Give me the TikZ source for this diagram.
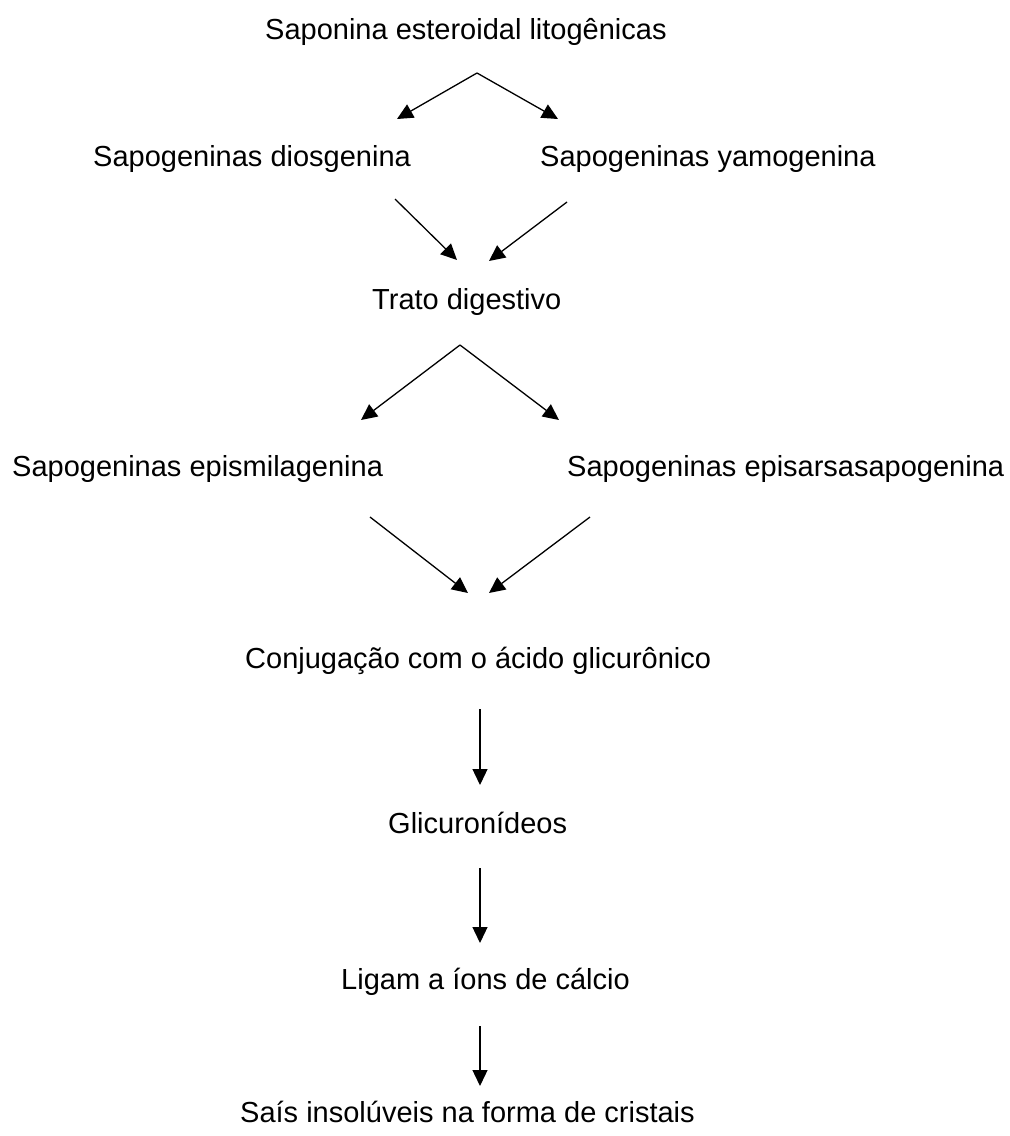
\documentclass[tikz,border=0pt]{standalone}
\usepackage{fontspec}
\setmainfont{Liberation Sans}
\usetikzlibrary{arrows.meta}
\begin{document}
\begin{tikzpicture}[x=1pt,y=-1pt,
  lbl/.style={anchor=base west, inner sep=0pt, font=\fontsize{29}{34}\selectfont},
  flow/.style={line width=1.3pt, -{Triangle[length=16pt,width=15pt]}}]
\fill[white] (0,0) rectangle (1010,1136);
\useasboundingbox (0,0) rectangle (1010,1136);
% texts
\node[lbl] (title) at (265,39)  {Saponina esteroidal litogênicas};
\node[lbl] (dios)  at (93,166)  {Sapogeninas diosgenina};
\node[lbl] (yamo)  at (540,166) {Sapogeninas yamogenina};
\node[lbl] (trato) at (372,309) {Trato digestivo};
\node[lbl] (epis)  at (12,476)  {Sapogeninas epismilagenina};
\node[lbl] (sars)  at (567,476) {Sapogeninas episarsasapogenina};
\node[lbl] (conj)  at (245,668) {Conjugação com o ácido glicurônico};
\node[lbl] (glic)  at (388,833) {Glicuronídeos};
\node[lbl] (ligam) at (341,989) {Ligam a íons de cálcio};
\node[lbl] (sais)  at (240,1122) {Saís insolúveis na forma de cristais};
% connector ends
\coordinate (t0) at (477,73);
\coordinate (d1) at (397,119);
\coordinate (y1) at (558,119);
\coordinate (d2) at (395,199);
\coordinate (y2) at (567,202);
\coordinate (tr1) at (457,260);
\coordinate (tr2) at (489,261);
\coordinate (tr0) at (460,345);
\coordinate (e1) at (361,420);
\coordinate (s1) at (559,420);
\coordinate (e2) at (370,517);
\coordinate (s2) at (590,517);
\coordinate (c1) at (468,593);
\coordinate (c2) at (489,593);
\coordinate (c0) at (480,709);
\coordinate (g1) at (480,785);
\coordinate (g0) at (480,868);
\coordinate (l1) at (480,943);
\coordinate (l0) at (480,1026);
\coordinate (sa1) at (480,1086);
% connectors
\draw[flow] (t0) -- (d1);
\draw[flow] (t0) -- (y1);
\draw[flow] (d2) -- (tr1);
\draw[flow] (y2) -- (tr2);
\draw[flow] (tr0) -- (e1);
\draw[flow] (tr0) -- (s1);
\draw[flow] (e2) -- (c1);
\draw[flow] (s2) -- (c2);
\draw[flow] (c0) -- (g1);
\draw[flow] (g0) -- (l1);
\draw[flow] (l0) -- (sa1);
\end{tikzpicture}
\end{document}
